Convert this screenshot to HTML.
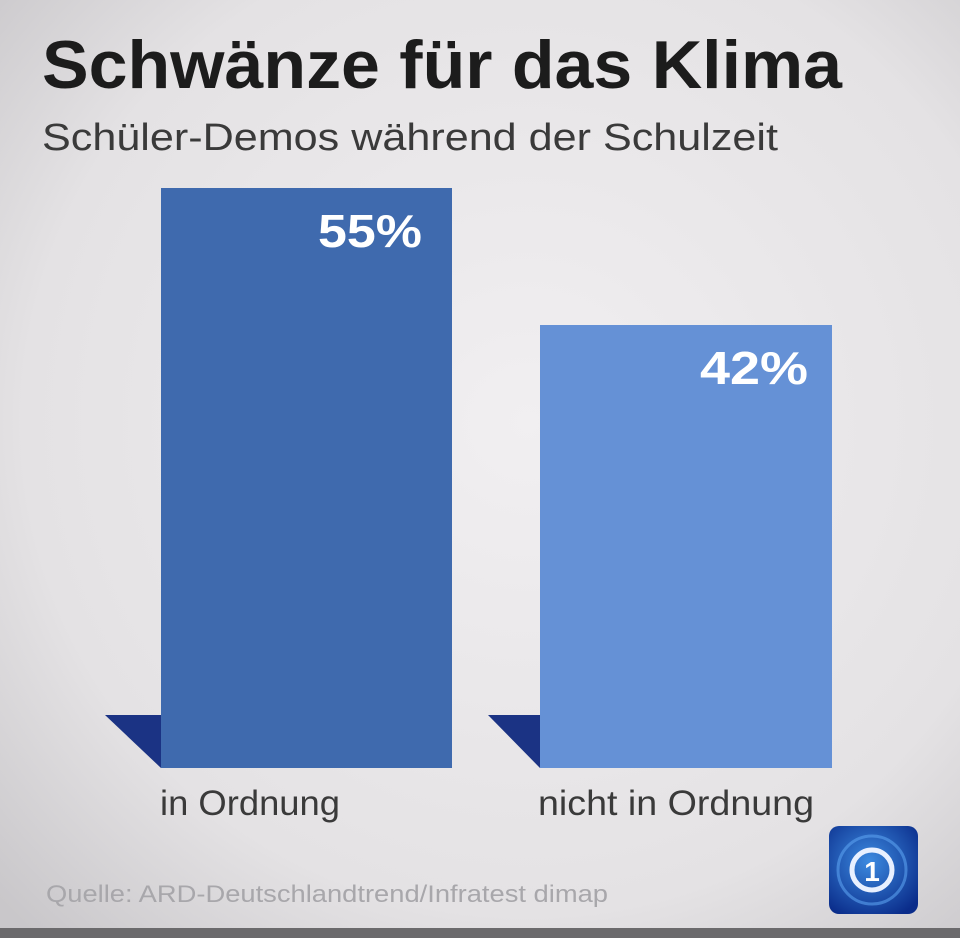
<!DOCTYPE html>
<html><head><meta charset="utf-8"><style>
html,body{margin:0;padding:0;width:960px;height:938px;overflow:hidden;background:#e6e4e6}
</style></head><body>
<svg width="960" height="938" viewBox="0 0 960 938" xmlns="http://www.w3.org/2000/svg" font-family="'Liberation Sans', sans-serif">
<defs>
<radialGradient id="bg" cx="0.55" cy="0.45" r="0.75">
<stop offset="0" stop-color="#f1eff1"/><stop offset="0.7" stop-color="#e4e2e4"/><stop offset="1" stop-color="#c9c7ca"/>
</radialGradient>
<radialGradient id="logo" cx="0.45" cy="0.4" r="0.7">
<stop offset="0" stop-color="#3c8ae0"/><stop offset="1" stop-color="#0a2c8a"/>
</radialGradient>
</defs>
<rect width="960" height="938" fill="url(#bg)"/>
<rect y="928" width="960" height="10" fill="#6b6a6c"/>
<text x="42" y="88" font-size="68" font-weight="bold" fill="#1c1c1c" textLength="800" lengthAdjust="spacingAndGlyphs">Schwänze für das Klima</text>
<text x="42" y="150" font-size="38" fill="#3a3a3a" textLength="736" lengthAdjust="spacingAndGlyphs">Schüler-Demos während der Schulzeit</text>
<polygon points="105,715 161,715 161,768" fill="#1b3384"/>
<rect x="161" y="188" width="291" height="580" fill="#3f6aae"/>
<text x="422" y="247" font-size="46" font-weight="bold" fill="#fff" text-anchor="end" textLength="104" lengthAdjust="spacingAndGlyphs">55%</text>
<polygon points="488,715 540,715 540,768" fill="#1b3384"/>
<rect x="540" y="325" width="292" height="443" fill="#6591d6"/>
<text x="808" y="384" font-size="46" font-weight="bold" fill="#fff" text-anchor="end" textLength="108" lengthAdjust="spacingAndGlyphs">42%</text>
<text x="160" y="815" font-size="35" fill="#3a3a3a" textLength="180" lengthAdjust="spacingAndGlyphs">in Ordnung</text>
<text x="538" y="815" font-size="35" fill="#3a3a3a" textLength="276" lengthAdjust="spacingAndGlyphs">nicht in Ordnung</text>
<text x="46" y="902" font-size="24" fill="#a8a7ab" textLength="562" lengthAdjust="spacingAndGlyphs">Quelle: ARD-Deutschlandtrend/Infratest dimap</text>
<rect x="829" y="826" width="89" height="88" rx="10" fill="url(#logo)"/>
<circle cx="872" cy="870" r="34" fill="none" stroke="#5aa0ee" stroke-width="3" opacity="0.6"/>
<circle cx="872" cy="870" r="20" fill="none" stroke="#e8f0ff" stroke-width="5"/>
<text x="872" y="881" font-size="28" font-weight="bold" fill="#fff" text-anchor="middle">1</text>
</svg>
</body></html>
